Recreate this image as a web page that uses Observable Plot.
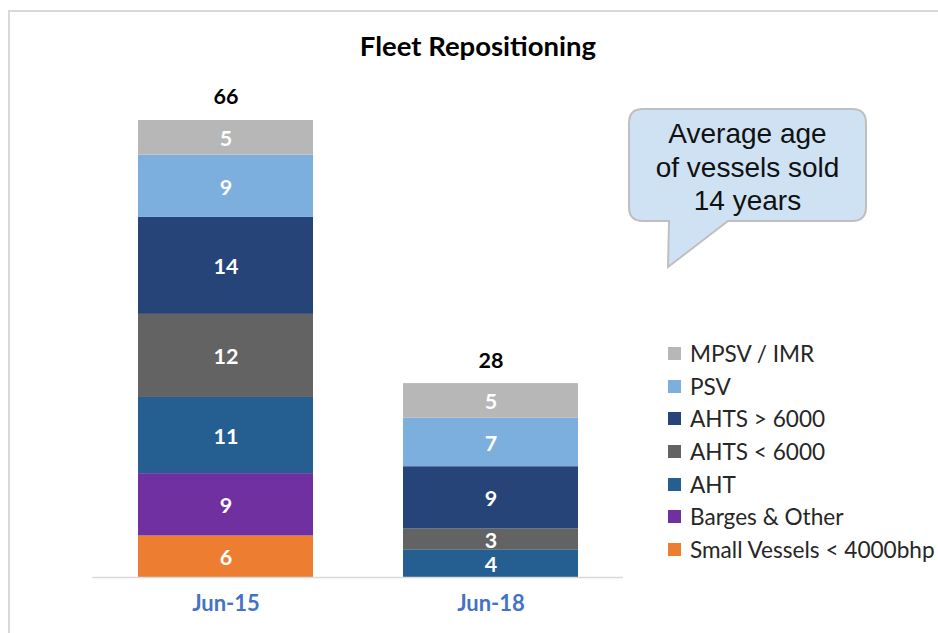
<!DOCTYPE html>
<html>
<head>
<meta charset="utf-8">
<script src="https://cdn.jsdelivr.net/npm/d3@7"></script>
<script src="https://cdn.jsdelivr.net/npm/@observablehq/plot@0.6"></script>
<style>
  html, body { margin: 0; padding: 0; background: #fff; }
  #wrap { position: relative; width: 938px; height: 633px; overflow: hidden; font-family: Lato, "Open Sans", sans-serif; }
  #frame { position: absolute; left: 8px; top: 10px; width: 2000px; height: 2000px; border-left: 2px solid #d9d9d9; border-top: 2px solid #d9d9d9; }
  #chart { position: absolute; left: 0; top: 0; }
  #title { position: absolute; left: 278px; width: 400px; top: 32px; text-align: center; font-weight: 700; font-size: 27.5px; line-height: 27px; color: #000; }
  #legend { position: absolute; left: 668px; top: 337px; }
  .li { display: flex; align-items: center; height: 32.7px; font-size: 22.6px; color: #262626; white-space: nowrap; }
  .sw { width: 13px; height: 13px; margin-right: 9px; flex: none; }
  #bubble { position: absolute; left: 0; top: 0; }
</style>
</head>
<body>
<div id="wrap">
  <div id="frame"></div>
  <div id="chart"></div>
  <div id="title">Fleet Repositioning</div>
  <svg id="bubble" width="938" height="633">
    <path d="M 643,109 H 852 Q 866,109 866,123 V 207 Q 866,221 852,221 H 728 L 668,267 L 669,221 H 643 Q 629,221 629,207 V 123 Q 629,109 643,109 Z" fill="#cfe2f3" stroke="#bfbfbf" stroke-width="2"/>
    <g font-family="'Liberation Sans', Arial, sans-serif" font-size="28" fill="#111" text-anchor="middle">
      <text x="747.5" y="143">Average age</text>
      <text x="747.5" y="176.5">of vessels sold</text>
      <text x="747.5" y="210">14 years</text>
    </g>
  </svg>
  <div id="legend"></div>
</div>
<script>
const dates = ["Jun-15", "Jun-18"];
const types = ["Small Vessels < 4000bhp", "Barges & Other", "AHT", "AHTS < 6000", "AHTS > 6000", "PSV", "MPSV / IMR"];
const colors = ["#ed7d31", "#7030a0", "#255e91", "#636363", "#264478", "#7cafdd", "#b7b7b7"];
const jun15 = [6, 9, 11, 12, 14, 9, 5];
const jun18 = [0, 0, 4, 3, 9, 7, 5];

const series = {"Jun-15": jun15, "Jun-18": jun18};
const rows = [];
for (const d of dates) {
  types.forEach((t, i) => { if (series[d][i] > 0) rows.push({date: d, type: t, value: series[d][i]}); });
}
const totals = dates.map(d => ({date: d, total: d3.sum(series[d])}));

const plot = Plot.plot({
  width: 938,
  height: 633,
  marginLeft: 92,
  marginRight: 315,
  marginTop: 120,
  marginBottom: 56,
  style: {background: "transparent", fontFamily: "Lato, sans-serif"},
  x: {domain: dates, paddingInner: 0.34, paddingOuter: 0.17, axis: null},
  y: {domain: [0, 66], axis: null},
  color: {domain: types, range: colors},
  marks: [
    Plot.barY(rows, {x: "date", y: "value", fill: "type"}),
    Plot.text(rows, Plot.stackY({x: "date", y: "value", text: d => String(d.value), dy: 1.5, fill: "white", fontSize: 21.5, fontWeight: "bold"})),
    Plot.text(totals, {x: "date", y: "total", text: d => String(d.total), dy: -23, fill: "black", fontSize: 21.5, fontWeight: "bold"}),
    Plot.ruleY([0], {stroke: "#d9d9d9", strokeWidth: 1.5}),
    Plot.text(dates, {x: d => d, frameAnchor: "bottom", dy: 33, text: d => d, fill: "#4472c4", fontSize: 22, fontWeight: "bold"})
  ]
});
document.getElementById("chart").appendChild(plot);

const legend = document.getElementById("legend");
types.map((t, i) => [t, colors[i]]).reverse().forEach(([t, c]) => {
  const row = document.createElement("div");
  row.className = "li";
  const sw = document.createElement("span");
  sw.className = "sw";
  sw.style.background = c;
  const lab = document.createElement("span");
  lab.textContent = t;
  row.appendChild(sw);
  row.appendChild(lab);
  legend.appendChild(row);
});
</script>
</body>
</html>
